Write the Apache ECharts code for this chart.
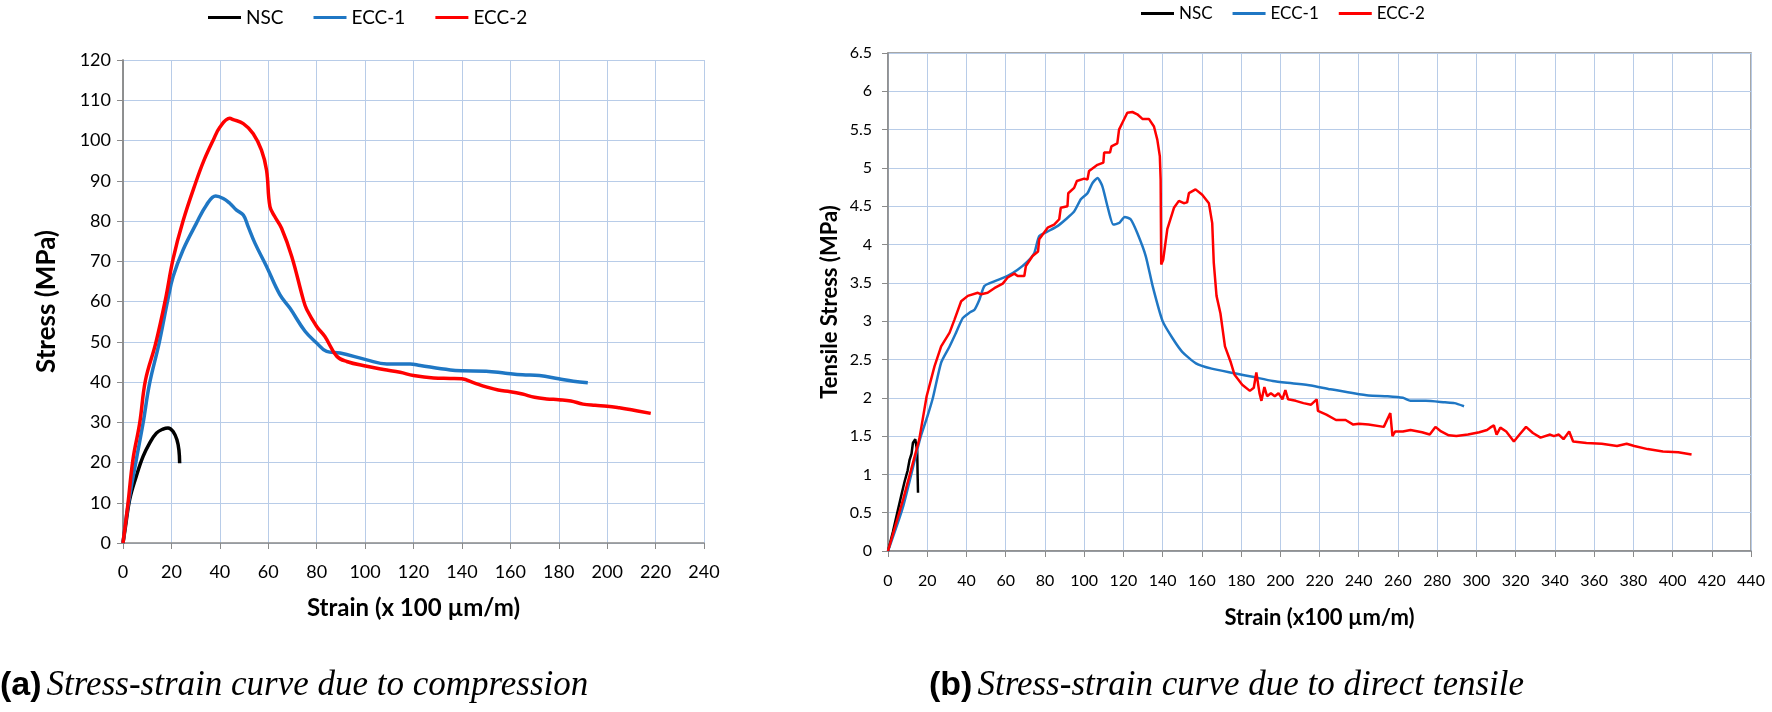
<!DOCTYPE html>
<html>
<head>
<meta charset="utf-8">
<script src="https://cdn.jsdelivr.net/npm/echarts@6/dist/echarts.min.js"></script>
<style>
html,body{margin:0;padding:0;background:#fff;}
#chart{width:1772px;height:712px;}
</style>
</head>
<body>
<div id="chart"></div>
<script>
// ---------- Data: (a) compression ----------
const seriesNames = ['NSC', 'ECC-1', 'ECC-2'];
const compNSC = [[0,0],[1,4],[2.75,10.8],[5.5,16.6],[8.3,21.5],[11,24.8],[13.8,27.3],[16.5,28.3],[18.6,28.6],[20.7,27.7],[22.3,25.6],[23.1,23.1],[23.4,19.8]];
const compECC1 = [[0,0],[2,9],[5.5,20.7],[8.3,29.8],[11,39.7],[14.9,49.6],[18.5,60.4],[20.7,66.2],[24.8,72.8],[30.3,79.4],[34.5,84],[38.3,86.2],[41.4,85.6],[44.1,84.4],[46.9,82.7],[49.7,81.5],[51.7,78.6],[54.5,74.5],[59.3,68.7],[64.8,61.7],[69,58.3],[75.2,52.6],[80,49.7],[84.1,47.6],[89.7,47.2],[100.7,45.5],[109,44.5],[118.6,44.5],[122.8,44.1],[135.2,43],[140,42.8],[150,42.7],[158,42.2],[165,41.8],[172,41.6],[180,40.8],[186,40.2],[192,39.8]];
const compECC2 = [[0,0],[2,9.5],[4.1,20.7],[6.9,29.8],[9.3,40.5],[13.5,49.6],[17.5,60.4],[20.7,70.6],[24.8,80],[30.3,90],[33.4,95],[37.2,100],[40,103.3],[44.1,105.5],[45.5,105.2],[49.7,104.2],[53.8,101.7],[57.2,97.6],[59.3,92.6],[60.7,83.6],[62.8,81],[65.5,78.2],[69.7,71.2],[74.5,60.4],[75.9,58],[80,53.8],[83.4,51.3],[88.3,46.4],[92.4,45.1],[100.7,43.9],[107.6,43.1],[114.5,42.4],[120,41.6],[128.3,41],[135.2,40.9],[140,40.8],[145,39.8],[150,38.8],[155,38],[160,37.6],[165,37],[170,36.2],[175,35.8],[180,35.6],[185,35.3],[190,34.5],[195,34.2],[200,34],[205,33.6],[210,33.1],[218,32.2]];

// ---------- Data: (b) direct tensile ----------
const tenNSC = [[0,0],[2.5,0.25],[5.1,0.54],[7,0.75],[8.5,0.91],[10,1.05],[11,1.19],[12,1.27],[12.7,1.41],[13.9,1.46],[14.6,1.44],[14.9,1.3],[15.1,1.0],[15.3,0.76]];
const tenECC1 = [[0,0],[7.8,0.59],[16.3,1.46],[20,1.75],[22.9,2.0],[27.1,2.46],[31.4,2.67],[34.7,2.85],[38.1,3.04],[41.5,3.11],[44.1,3.15],[46.6,3.28],[49.2,3.46],[54.2,3.52],[61,3.59],[66.1,3.67],[71.2,3.78],[74.6,3.89],[77.1,4.11],[81.4,4.17],[86.4,4.24],[90.7,4.33],[94.9,4.43],[98.3,4.59],[101.7,4.67],[104.2,4.8],[106.8,4.87],[109.3,4.76],[111.9,4.5],[114.9,4.26],[117.8,4.28],[120.7,4.36],[123.7,4.33],[127.1,4.15],[131.4,3.85],[135,3.45],[140,3.0],[145,2.78],[150,2.6],[157,2.45],[165,2.38],[176.7,2.32],[186.5,2.27],[196.2,2.22],[206,2.19],[215.7,2.16],[225.5,2.11],[235.2,2.07],[245,2.03],[254.7,2.02],[262.5,2.0],[266.4,1.96],[274.2,1.96],[284,1.94],[288.8,1.93],[293.7,1.89]];
const tenECC2 = [[0,0],[7.8,0.68],[15.96,1.46],[19.7,2.02],[23.7,2.41],[27.1,2.67],[31.4,2.85],[33.9,3.02],[37.3,3.26],[40.7,3.33],[45.8,3.37],[47.5,3.35],[50.8,3.37],[54.2,3.43],[58.5,3.49],[61,3.57],[64.4,3.62],[66.1,3.59],[69.5,3.59],[70.3,3.72],[73.7,3.85],[76.5,3.91],[77.1,4.07],[81.4,4.22],[84.7,4.26],[87.3,4.33],[88.1,4.48],[91.5,4.5],[91.9,4.67],[94.9,4.74],[96.3,4.83],[100,4.86],[101.7,4.85],[102.5,4.96],[106.8,5.04],[109.8,5.07],[110.2,5.2],[113.2,5.2],[113.9,5.28],[116.9,5.32],[117.8,5.5],[119.5,5.59],[122,5.72],[124.6,5.73],[127.1,5.7],[129.7,5.64],[133,5.64],[135.6,5.54],[137.3,5.37],[138.6,5.15],[139,4.85],[139.3,3.74],[140.3,3.8],[142.4,4.2],[145.8,4.48],[148.3,4.57],[150.8,4.54],[152.5,4.55],[153.4,4.67],[156.8,4.72],[160.2,4.65],[163.6,4.54],[165.3,4.28],[166.1,3.76],[167.5,3.33],[169.5,3.1],[171.8,2.67],[174.8,2.46],[176.7,2.3],[180.6,2.17],[184.5,2.09],[186.5,2.13],[187.8,2.33],[189.4,2.06],[190.4,1.96],[191.9,2.14],[193.3,2.02],[195.2,2.06],[197.2,2.02],[199.1,2.06],[201.1,1.98],[202.6,2.1],[204,1.98],[207.9,1.96],[211.8,1.93],[215.7,1.91],[218.6,1.98],[219.2,1.83],[223.5,1.78],[228.4,1.71],[233.3,1.71],[237.2,1.65],[240.1,1.66],[245,1.65],[252.8,1.62],[256.1,1.8],[257.2,1.5],[258.6,1.56],[262.5,1.56],[266.4,1.58],[272.3,1.55],[276.2,1.52],[279.1,1.62],[282,1.56],[285.9,1.51],[289.8,1.5],[295.7,1.52],[301.5,1.55],[305.4,1.58],[307,1.61],[308.9,1.64],[310.3,1.52],[312.2,1.61],[315.2,1.56],[319.1,1.43],[322,1.52],[325.3,1.62],[328.8,1.54],[332.7,1.48],[337.6,1.52],[339.5,1.5],[342,1.52],[344.4,1.46],[347.3,1.56],[349.3,1.43],[356.1,1.41],[363.9,1.4],[371.7,1.37],[376.6,1.4],[380.5,1.37],[387.3,1.33],[395.1,1.3],[402.9,1.29],[409.7,1.26]];

// ---------- Text ----------
const titleA = 'Stress-strain curve due to compression';
const titleB = 'Stress-strain curve due to direct tensile';
const yNameA = 'Stress (MPa)';
const xNameA = 'Strain (x 100 µm/m)';
const yNameB = 'Tensile Stress (MPa)';
const xNameB = 'Strain (x100 µm/m)';

const colors = {'NSC':'#000000','ECC-1':'#1f77c4','ECC-2':'#ff0000'};
const gridColor = '#b8cce8';
const axisColor = '#8a8a8a';
const labelFont = 'Lato, "Open Sans", sans-serif';

function valAxis(gi, min, max, interval, name, gap, nameSize, labelSize, margin) {
  return {
    type: 'value', gridIndex: gi, min: min, max: max, interval: interval,
    name: name, nameLocation: 'middle', nameGap: gap,
    nameTextStyle: {fontFamily: labelFont, fontWeight: 'bold', fontSize: nameSize, color: '#000'},
    axisLine: {show: true, onZero: false, lineStyle: {color: axisColor, width: 1.5}},
    axisTick: {show: true, length: 6, lineStyle: {color: axisColor}},
    axisLabel: {fontFamily: labelFont, fontSize: labelSize, color: '#000', margin: margin},
    splitLine: {show: true, lineStyle: {color: gridColor, width: 1}}
  };
}

function line(name, data, xi, yi, width, smooth) {
  return {
    type: 'line', name: name, data: data, xAxisIndex: xi, yAxisIndex: yi,
    symbol: 'none', smooth: smooth, color: colors[name],
    lineStyle: {width: width, color: colors[name]}, z: name === 'ECC-2' ? 3 : 2
  };
}

const capRich = {
  a: {fontFamily: '"Liberation Sans", Arial, sans-serif', fontWeight: 'bold', fontSize: 34, color: '#000'},
  b: {fontFamily: '"Liberation Serif", "Times New Roman", serif', fontStyle: 'italic', fontWeight: 'normal', fontSize: 35, color: '#000'}
};

const chart = echarts.init(document.getElementById('chart'), null, {renderer: 'canvas'});
chart.setOption({
  animation: false,
  backgroundColor: '#ffffff',
  title: [
    {left: 0, top: 668, padding: 0, text: '{a|(a)} {b|' + titleA + '}',
     textStyle: {fontWeight: 'normal', rich: capRich}},
    {left: 929, top: 668, padding: 0, text: '{a|(b)} {b|' + titleB + '}',
     textStyle: {fontWeight: 'normal', rich: capRich}}
  ],
  legend: [
    {data: seriesNames, left: 203, top: 3, icon: 'rect', itemWidth: 33, itemHeight: 3, itemGap: 30,
     textStyle: {fontFamily: labelFont, fontSize: 19, color: '#000'}},
    {data: seriesNames, left: 1136, top: 0, icon: 'rect', itemWidth: 33, itemHeight: 3, itemGap: 20,
     textStyle: {fontFamily: labelFont, fontSize: 17, color: '#000'}}
  ],
  grid: [
    {left: 123, top: 60, width: 581, height: 483, show: false},
    {left: 888, top: 53, width: 863, height: 498, show: true, borderColor: axisColor, borderWidth: 1.5, backgroundColor: 'transparent'}
  ],
  xAxis: [
    valAxis(0, 0, 240, 20, xNameA, 53, 24, 18, 20),
    valAxis(1, 0, 440, 20, xNameB, 56, 22, 16, 22)
  ],
  yAxis: [
    valAxis(0, 0, 120, 10, yNameA, 63, 26, 18, 12),
    valAxis(1, 0, 6.5, 0.5, yNameB, 47, 22, 16, 16),
    {type: 'value', gridIndex: 0, position: 'right', min: 0, max: 120, interval: 10,
     axisLine: {show: true, lineStyle: {color: axisColor, width: 1.5}},
     axisTick: {show: false}, axisLabel: {show: false}, splitLine: {show: false}}
  ],
  series: [
    line('NSC', compNSC, 0, 0, 3.5, 0.4),
    line('ECC-1', compECC1, 0, 0, 3.5, 0.4),
    line('ECC-2', compECC2, 0, 0, 3.5, 0.4),
    line('NSC', tenNSC, 1, 1, 2.5, false),
    line('ECC-1', tenECC1, 1, 1, 2.5, 0.2),
    line('ECC-2', tenECC2, 1, 1, 2.5, false)
  ]
});
</script>
</body>
</html>
